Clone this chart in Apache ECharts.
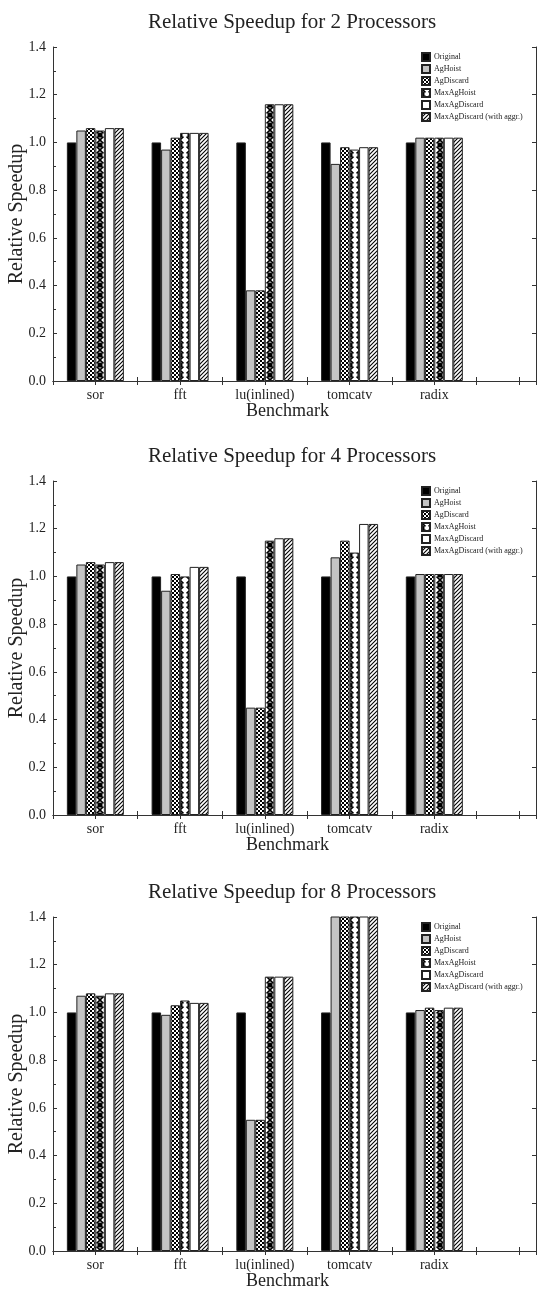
<!DOCTYPE html>
<html>
<head>
<meta charset="utf-8">
<script src="https://cdn.jsdelivr.net/npm/echarts@6/dist/echarts.min.js"></script>
<style>
html,body{margin:0;padding:0;background:#fff;}
#chart{width:537px;height:1291px;}
</style>
</head>
<body>
<div id="chart"></div>
<script>
// ---- data ----
const categories = ['sor', 'fft', 'lu(inlined)', 'tomcatv', 'radix'];
const seriesNames = ['Original', 'AgHoist', 'AgDiscard', 'MaxAgHoist', 'MaxAgDiscard', 'MaxAgDiscard (with aggr.)'];
const chartTitles = ['Relative Speedup for 2 Processors', 'Relative Speedup for 4 Processors', 'Relative Speedup for 8 Processors'];

// 2 processors
const p2Original        = [1.00, 1.00, 1.00, 1.00, 1.00];
const p2AgHoist         = [1.05, 0.97, 0.38, 0.91, 1.02];
const p2AgDiscard       = [1.06, 1.02, 0.38, 0.98, 1.02];
const p2MaxAgHoist      = [1.05, 1.04, 1.16, 0.97, 1.02];
const p2MaxAgDiscard    = [1.06, 1.04, 1.16, 0.98, 1.02];
const p2MaxAgDiscardAgg = [1.06, 1.04, 1.16, 0.98, 1.02];

// 4 processors
const p4Original        = [1.00, 1.00, 1.00, 1.00, 1.00];
const p4AgHoist         = [1.05, 0.94, 0.45, 1.08, 1.01];
const p4AgDiscard       = [1.06, 1.01, 0.45, 1.15, 1.01];
const p4MaxAgHoist      = [1.05, 1.00, 1.15, 1.10, 1.01];
const p4MaxAgDiscard    = [1.06, 1.04, 1.16, 1.22, 1.01];
const p4MaxAgDiscardAgg = [1.06, 1.04, 1.16, 1.22, 1.01];

// 8 processors (tomcatv bars run off the top of the axis)
const p8Original        = [1.00, 1.00, 1.00, 1.00, 1.00];
const p8AgHoist         = [1.07, 0.99, 0.55, 1.50, 1.01];
const p8AgDiscard       = [1.08, 1.03, 0.55, 1.50, 1.02];
const p8MaxAgHoist      = [1.07, 1.05, 1.15, 1.50, 1.01];
const p8MaxAgDiscard    = [1.08, 1.04, 1.15, 1.50, 1.02];
const p8MaxAgDiscardAgg = [1.08, 1.04, 1.15, 1.50, 1.02];

const panels = [
  [p2Original, p2AgHoist, p2AgDiscard, p2MaxAgHoist, p2MaxAgDiscard, p2MaxAgDiscardAgg],
  [p4Original, p4AgHoist, p4AgDiscard, p4MaxAgHoist, p4MaxAgDiscard, p4MaxAgDiscardAgg],
  [p8Original, p8AgHoist, p8AgDiscard, p8MaxAgHoist, p8MaxAgDiscard, p8MaxAgDiscardAgg]
];

// ---- patterns ----
function tile(w, h, draw) {
  const c = document.createElement('canvas');
  c.width = w; c.height = h;
  const g = c.getContext('2d');
  draw(g);
  return c;
}
const checker = tile(4, 4, g => {
  g.fillStyle = '#fff'; g.fillRect(0, 0, 4, 4);
  g.fillStyle = '#000'; g.fillRect(0, 0, 2, 2); g.fillRect(2, 2, 2, 2);
});
const chain = tile(10, 10, g => {
  g.fillStyle = '#fff'; g.fillRect(0, 0, 10, 10);
  g.strokeStyle = '#000'; g.lineWidth = 1.6;
  g.beginPath();
  g.moveTo(0, 0); g.lineTo(10, 10);
  g.moveTo(10, 0); g.lineTo(0, 10);
  g.stroke();
  g.fillStyle = '#000';
  [[0, 5], [10, 5]].forEach(p => { g.beginPath(); g.arc(p[0], p[1], 2.6, 0, Math.PI * 2); g.fill(); });
  g.fillStyle = '#fff';
  g.beginPath(); g.arc(5, 5, 2.2, 0, Math.PI * 2); g.fill();
});
const hatch = tile(4, 4, g => {
  g.fillStyle = '#fff'; g.fillRect(0, 0, 4, 4);
  g.strokeStyle = '#000'; g.lineWidth = 1.1;
  g.beginPath();
  g.moveTo(-1, 5); g.lineTo(5, -1);
  g.moveTo(-1, 1); g.lineTo(1, -1);
  g.moveTo(3, 5); g.lineTo(5, 3);
  g.stroke();
});
const fills = [
  '#000000',
  '#c4c4c4',
  { image: checker, repeat: 'repeat' },
  { image: chain, repeat: 'repeat' },
  '#ffffff',
  { image: hatch, repeat: 'repeat' }
];

// ---- layout ----
const gridTops = [47, 481, 917];
const gridHeight = 334;
const serif = 'Liberation Serif';
const axisColor = '#333';

const option = {
  animation: false,
  backgroundColor: '#fff',
  title: [], grid: [], xAxis: [], yAxis: [], legend: [], series: []
};

gridTops.forEach((top, gi) => {
  option.title.push({
    text: chartTitles[gi],
    left: 287, top: top - 40, textAlign: 'center',
    textStyle: { fontFamily: serif, fontSize: 21, fontWeight: 'normal', color: '#222' }
  });
  option.grid.push({ left: 53, right: 1, top: top, height: gridHeight, containLabel: false, outerBoundsMode: 'none' });
  // bottom x axis
  option.xAxis.push({
    type: 'value', gridIndex: gi, position: 'bottom', min: 0.5, max: 6.2, interval: 0.5,
    name: 'Benchmark', nameLocation: 'middle', nameGap: 21, nameMoveOverlap: false,
    nameTextStyle: { fontFamily: serif, fontSize: 18, color: '#222', padding: [0, 14, 0, 0] },
    axisLine: { show: true, lineStyle: { color: axisColor, width: 1 } },
    axisTick: { show: true, inside: true, length: 4, lineStyle: { color: axisColor } },
    axisLabel: {
      fontFamily: serif, fontSize: 14, color: '#222', margin: 7,
      showMaxLabel: false, showMinLabel: false,
      formatter: v => (Number.isInteger(v) && v >= 1 && v <= categories.length) ? categories[v - 1] : ''
    },
    splitLine: { show: false }
  });
  // top x axis (frame + ticks)
  option.xAxis.push({
    type: 'value', gridIndex: gi, position: 'top', min: 0.5, max: 6.2, interval: 0.5,
    axisLine: { show: true, lineStyle: { color: axisColor, width: 1 } },
    axisTick: { show: true, inside: true, length: 4, lineStyle: { color: axisColor } },
    axisLabel: { show: false }, splitLine: { show: false }
  });
  // left y axis
  option.yAxis.push({
    type: 'value', gridIndex: gi, position: 'left', min: 0, max: 1.4, interval: 0.2,
    name: 'Relative Speedup', nameLocation: 'middle', nameGap: 26, nameRotate: 90, nameMoveOverlap: false,
    nameTextStyle: { fontFamily: serif, fontSize: 20, color: '#222' },
    axisLine: { show: true, lineStyle: { color: axisColor, width: 1 } },
    axisTick: { show: true, inside: true, length: 4, lineStyle: { color: axisColor } },
    minorTick: { show: true, splitNumber: 2, length: 3, lineStyle: { color: axisColor } },
    axisLabel: { fontFamily: serif, fontSize: 14, color: '#222', margin: 7, formatter: v => v.toFixed(1) },
    splitLine: { show: false }
  });
  // right y axis (frame + ticks)
  option.yAxis.push({
    type: 'value', gridIndex: gi, position: 'right', min: 0, max: 1.4, interval: 0.2,
    axisLine: { show: true, lineStyle: { color: axisColor, width: 1 } },
    axisTick: { show: true, inside: true, length: 4, lineStyle: { color: axisColor } },
    axisLabel: { show: false }, splitLine: { show: false }
  });
  option.legend.push({
    data: seriesNames, orient: 'vertical', left: 421, top: top + 5,
    itemWidth: 8, itemHeight: 8, itemGap: 2, icon: 'rect', padding: 0,
    textStyle: { fontFamily: serif, fontSize: 8, color: '#222', padding: [0, 0, 0, -1] }
  });
  panels[gi].forEach((vals, si) => {
    option.series.push({
      type: 'bar', name: seriesNames[si],
      xAxisIndex: gi * 2, yAxisIndex: gi * 2,
      barWidth: 9.5, barGap: '0%', clip: true,
      itemStyle: { color: fills[si], borderColor: '#222', borderWidth: 1 },
      data: vals.map((v, i) => [i + 1, v])
    });
  });
});

const chart = echarts.init(document.getElementById('chart'), null, { renderer: 'canvas' });
chart.setOption(option);
</script>
</body>
</html>
